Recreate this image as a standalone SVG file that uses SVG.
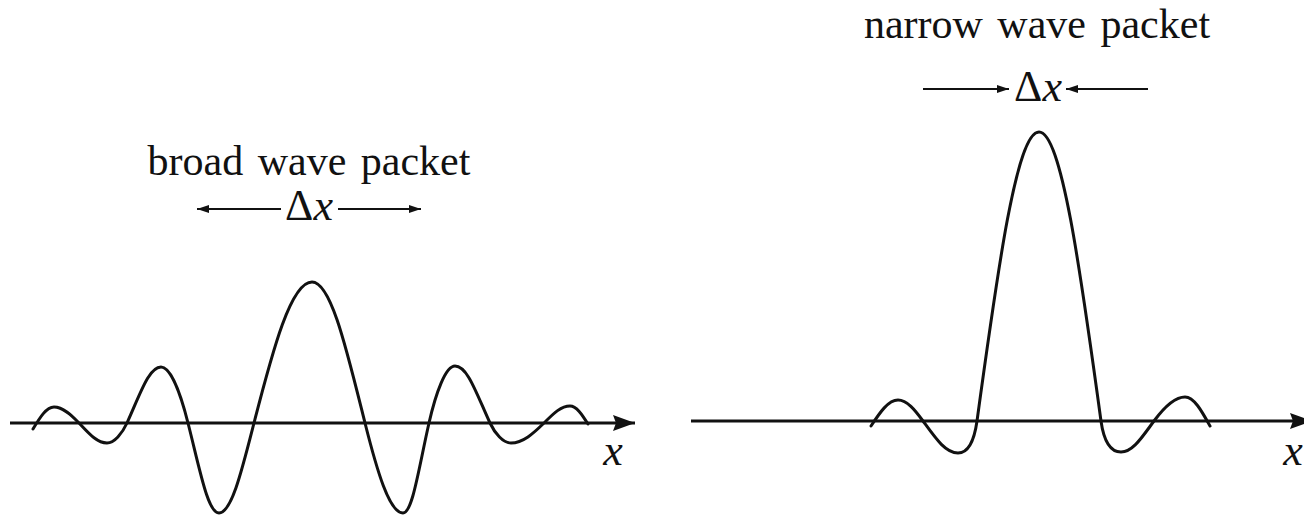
<svg xmlns="http://www.w3.org/2000/svg" width="1304" height="515" viewBox="0 0 1304 515">
<style>
.lbl{font-family:"Liberation Serif","Times New Roman",serif;font-size:42px;fill:#111;text-anchor:middle}
.ttl{word-spacing:4px}
.dx{font-size:44px}
.it{font-style:italic}
.axis{stroke:#111;stroke-width:3;fill:none}
.wave{stroke:#111;stroke-width:3;fill:none;stroke-linejoin:round;stroke-linecap:round}
.dim{stroke:#111;stroke-width:2;fill:none}
</style>
<defs>
<marker id="sa" markerUnits="userSpaceOnUse" markerWidth="14" markerHeight="10" refX="12" refY="5" orient="auto">
<path d="M0,1 L12,5 L0,9 Z" fill="#111"/>
</marker>
<marker id="ax" markerUnits="userSpaceOnUse" markerWidth="24" markerHeight="18" refX="22" refY="8" orient="auto">
<path d="M0,0 L22,8 L0,16 L3,8 Z" fill="#111"/>
</marker>
</defs>
<g id="broad">
<text class="lbl ttl" x="309" y="175">broad wave packet</text>
<text class="lbl dx" x="309" y="220">Δ<tspan class="it">x</tspan></text>
<text class="lbl dx it" x="613" y="465">x</text>
</g>
<g id="narrow">
<text class="lbl ttl" x="1037" y="38">narrow wave packet</text>
<text class="lbl dx" x="1038" y="101">Δ<tspan class="it">x</tspan></text>
<text class="lbl dx it" x="1293" y="465">x</text>
</g>
<g id="connectors">
<line class="axis" x1="10" y1="423" x2="635" y2="423" marker-end="url(#ax)"/>
<line class="axis" x1="691" y1="421" x2="1312" y2="421" marker-end="url(#ax)"/>
<line class="dim" x1="281" y1="209" x2="197" y2="209" marker-end="url(#sa)"/>
<line class="dim" x1="338" y1="209" x2="421" y2="209" marker-end="url(#sa)"/>
<line class="dim" x1="923" y1="89" x2="1009" y2="89" marker-end="url(#sa)"/>
<line class="dim" x1="1148" y1="89" x2="1066" y2="89" marker-end="url(#sa)"/>
</g>
<g id="broad-wave">
<path class="wave" d="M33,429 C40,417.4 46.4,407 54,407 C63,407 71.1,414.6 79,423 C88.9,433.5 96.9,443 107,443 C114.2,443 122.2,433.5 127,423 C140.4,393.6 148.8,367 161,367 C170.7,367 180.6,393.6 188,423 C200,470.3 207.8,513 219,513 C231.6,513 241.9,470.3 254,423 C273,349 291.1,282 312,282 C331.1,282 346.5,349 365,423 C376.9,470.3 389.3,513 403,513 C412.4,513 418.3,470.3 429,423 C435.7,393.1 445.6,366 455,366 C467.6,366 476.2,393.1 490,423 C494.9,433.5 503.4,443 511,443 C522.9,443 533.3,433.5 544,423 C553,414.1 560.6,406 570,406 C576.5,406 582,414.5 588,424"/>
</g>
<g id="narrow-wave">
<path class="wave" d="M871,426 C880,412.3 888.3,400 898,400 C907,400 915,410 923,421 C935.2,437.8 945.4,453 958,453 C966,453 973.5,446 977,421 C997.7,269.2 1016.7,132 1039,132 C1061.3,132 1080.3,269.2 1101,421 C1104.5,446 1113,452 1121,452 C1132.9,452 1141.9,437.3 1154,421 C1163.3,408.4 1173.8,397 1185,397 C1194,397 1201.6,410.8 1210,426"/>
</g>
</svg>
